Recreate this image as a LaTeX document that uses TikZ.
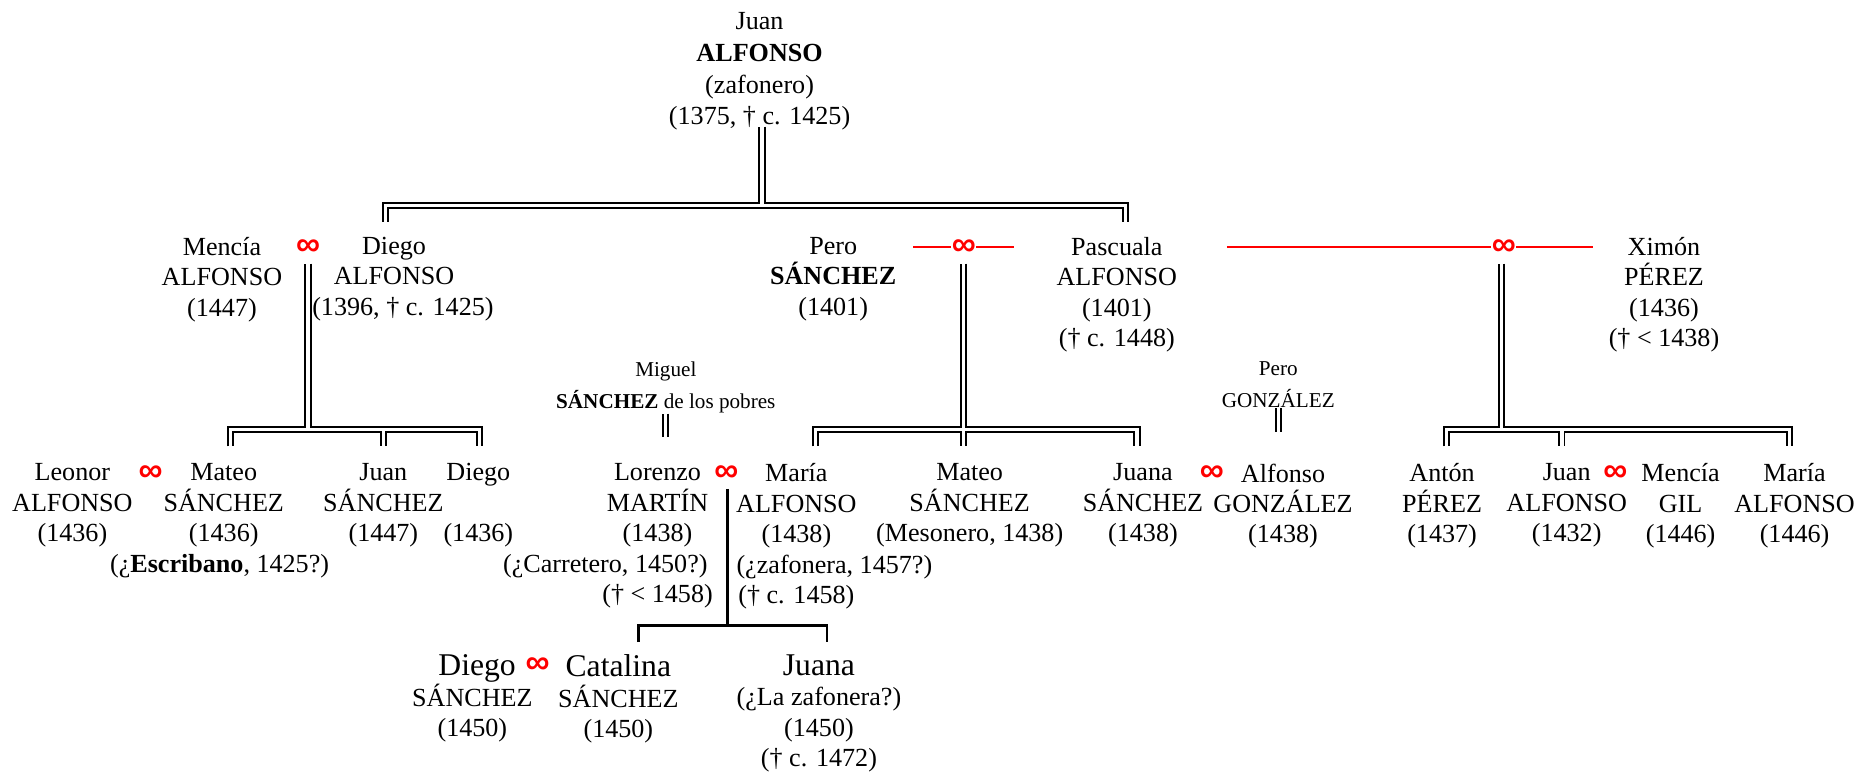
\documentclass[tikz,border=0pt]{standalone}
\usepackage{fontspec}
\setmainfont{Liberation Serif}
\newfontfamily\inffont{Liberation Sans}
% shift one line of a centred block right / left by #1
\newcommand\shiftR[2]{#2\kern-#1\kern-#1}
\newcommand\shiftL[2]{\mbox{}\kern-#1\kern-#1#2}
\begin{document}
\begin{tikzpicture}[x=0.6pt,y=-0.6pt,
  person/.style={anchor=north, align=center, inner sep=0pt,
    font=\fontsize{13.2}{15.4}\selectfont,
    execute at begin node={\rule{0pt}{12pt}}},
  founder/.style={person, font=\fontsize{13.2}{16}\selectfont},
  minor/.style={person, font=\fontsize{10.7}{16.3}\selectfont},
  marr/.style={inner sep=0pt, text=red, font=\inffont\bfseries\fontsize{17}{17}\selectfont},
  wed/.style={red, line width=1pt},
  kin/.style={draw=black, line width=1pt, double=white, double distance=1.6pt},
  kinone/.style={draw=black, line width=1.1pt},
]
\fill[white] (0,0) rectangle (1568,652);
\useasboundingbox (0,0) rectangle (1568,652);

% ---------- generation 1 ----------
\node[founder] (juan0) at (640,10.3) {Juan\\ \textbf{ALFONSO}\\ (zafonero)\\ (1375, † c. 1425)};

% ---------- generation 2 ----------
\node[person] (mencia0) at (187,199.5) {Mencía\\ ALFONSO\\ (1447)};
\node[marr]   (infA)    at (259.5,208.5) {∞};
\node[person] (diego0)  at (332,199.5) {Diego\\ ALFONSO\\ \shiftR{4.5pt}{(1396, † c. 1425)}};
\node[person] (pero0)   at (702,199.5) {Pero\\ \textbf{SÁNCHEZ}\\ (1401)};
\node[marr]   (infB)    at (812,208.5) {∞};
\node[person] (pascuala) at (941,199.5) {Pascuala\\ ALFONSO\\ (1401)\\ († c. 1448)};
\node[marr]   (infC)    at (1267,208.5) {∞};
\node[person] (ximon)   at (1402,199.5) {Ximón\\ PÉREZ\\ (1436)\\ († < 1438)};

\coordinate (wB1) at (769.5,208.5);
\coordinate (wB2) at (854.5,208.5);
\coordinate (wC1) at (1033.6,208.5);
\coordinate (wC2) at (1342,208.5);
\draw[wed] (wB1) -- (wB1 -| infB.west) (wB2 -| infB.east) -- (wB2);
\draw[wed] (wC1) -- (wC1 -| infC.west) (wC2 -| infC.east) -- (wC2);

% ---------- in-laws ----------
\node[minor] (miguel) at (561,304.4) {Miguel\\ \textbf{SÁNCHEZ} de los pobres};
\node[minor] (perog)  at (1077,304.4) {Pero\\ GONZÁLEZ};

% ---------- generation 3 ----------
\node[person] (leonor)  at (61,390.3)  {Leonor\\ ALFONSO\\ (1436)};
\node[marr]   (infD)    at (127,399)   {∞};
\node[person] (mateo1)  at (188.5,390.3) {Mateo\\ SÁNCHEZ\\ (1436)\\ \shiftL{2.1pt}{(¿\textbf{Escribano}, 1425?)}};
\node[person] (juan1)   at (323,390.3) {Juan\\ SÁNCHEZ\\ (1447)};
\node[person] (diego1)  at (403,390.3) {Diego\\ \mbox{}\\ (1436)};
\node[person] (lorenzo) at (554,390.3) {Lorenzo\\ MARTÍN\\ (1438)\\ \shiftL{26.4pt}{(¿Carretero, 1450?)}\\ († < 1458)};
\node[marr]   (infE)    at (612,399)   {∞};
\node[person] (maria1)  at (671,390.3) {María\\ ALFONSO\\ (1438)\\ \shiftR{19.2pt}{(¿zafonera, 1457?)}\\ († c. 1458)};
\node[person] (mateo2)  at (817,390.3) {Mateo\\ SÁNCHEZ\\ (Mesonero, 1438)};
\node[person] (juana1)  at (963,390.3) {Juana\\ SÁNCHEZ\\ (1438)};
\node[marr]   (infF)    at (1021,399)  {∞};
\node[person] (alfonso) at (1081,390.3) {Alfonso\\ GONZÁLEZ\\ (1438)};
\node[person] (anton)   at (1215,390.3) {Antón\\ PÉREZ\\ (1437)};
\node[person] (juan2)   at (1320,390.3) {Juan\\ ALFONSO\\ (1432)};
\node[marr]   (infG)    at (1361,399)  {∞};
\node[person] (mencia2) at (1416,390.3) {Mencía\\ GIL\\ (1446)};
\node[person] (maria2)  at (1512,390.3) {María\\ ALFONSO\\ (1446)};

% ---------- generation 4 ----------
\node[person] (diego3)   at (398,551.3) {\shiftR{2.4pt}{\fontsize{16}{16}\selectfont Diego}\\ SÁNCHEZ\\ (1450)};
\node[marr]   (infH)     at (453,561)   {∞};
\node[person] (catalina) at (521,551.3) {{\fontsize{16}{16}\selectfont Catalina}\\ SÁNCHEZ\\ (1450)};
\node[person] (juana2)   at (690,551.3) {{\fontsize{16}{16}\selectfont Juana}\\ (¿La zafonera?)\\ (1450)\\ († c. 1472)};

% ---------- descent lines ----------
% Juan ALFONSO
\coordinate (barA) at (642,173);
\coordinate (dA1) at (325,187);
\coordinate (dA2) at (948,187);
\draw[kin] ([yshift=2pt]juan0.south -| barA) -- (barA)
  (dA1) -- (dA1 |- barA) -- (dA2 |- barA) -- (dA2);

% Mencía x Diego
\coordinate (barB) at (259.5,362);
\coordinate (dB1) at (194,376);
\coordinate (dB2) at (323,376);
\coordinate (dB3) at (404,376);
\draw[kin] ([yshift=-4pt]infA.south) -- (barB)
  (dB1) -- (dB1 |- barB) -- (dB3 |- barB) -- (dB3)
  (dB2 |- barB) -- (dB2);

% Pero x Pascuala
\coordinate (barC) at (812,362);
\coordinate (dC1) at (687,376);
\coordinate (dC2) at (812,376);
\coordinate (dC3) at (958,376);
\draw[kin] ([yshift=-4pt]infB.south) -- (dC2)
  (dC1) -- (dC1 |- barC) -- (dC3 |- barC) -- (dC3);

% Pascuala x Ximón
\coordinate (barD) at (1265,362);
\coordinate (dD1) at (1219,376);
\coordinate (dD2) at (1316,376);
\coordinate (dD3) at (1508,376);
\draw[kin] ([yshift=-4pt]infC.south -| barD) -- (barD)
  (dD1) -- (dD1 |- barD) -- (dD3 |- barD) -- (dD3)
  (dD2 |- barD) -- (dD2);

% single parents of in-laws
\draw[kin] (miguel.south) -- ++(0,20);
\draw[kin] (perog.south) -- ++(0,20);

% Lorenzo x María
\coordinate (barE) at (613,527);
\coordinate (dE1) at (538,541);
\coordinate (dE2) at (697,541);
\draw[kinone] ([yshift=-3.5pt]infE.south -| barE) -- (barE)
  (dE1) -- (dE1 |- barE) -- (dE2 |- barE) -- (dE2);
\end{tikzpicture}
\end{document}
